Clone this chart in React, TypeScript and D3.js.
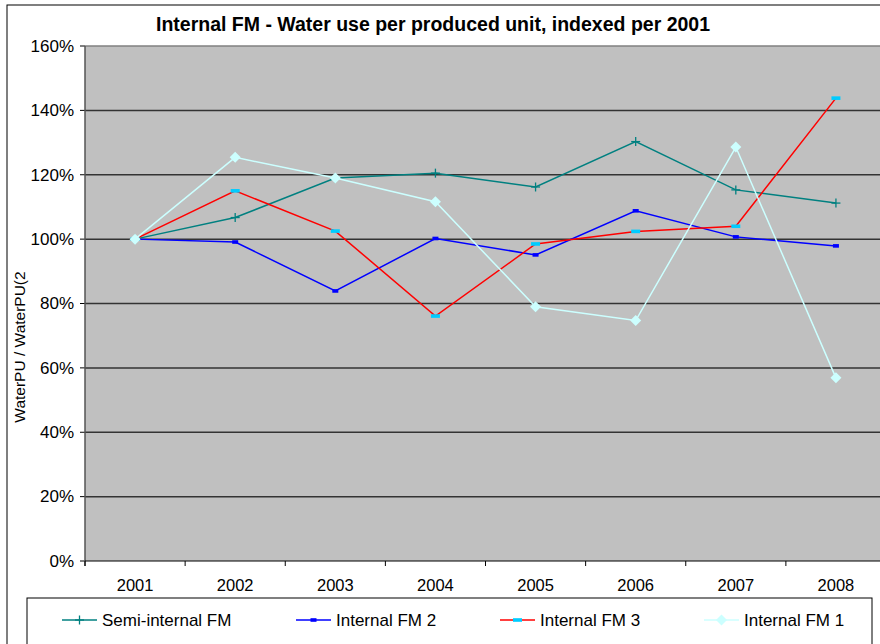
import React from "react";
import * as d3 from "d3";

const years = ["2001", "2002", "2003", "2004", "2005", "2006", "2007", "2008"];
const semiInternal = [100, 106.7, 119, 120.5, 116.2, 130.3, 115.3, 111.2];
const internal2 = [100, 99.1, 83.9, 100.2, 95.1, 108.8, 100.7, 97.9];
const internal3 = [100, 115, 102.5, 76.1, 98.5, 102.4, 104, 143.8];
const internal1 = [100, 125.4, 119, 111.6, 79, 74.7, 128.6, 56.9];
const yTicks = [0, 20, 40, 60, 80, 100, 120, 140, 160];

const series = [
  { name: "Semi-internal FM", values: semiInternal, color: "#008080", marker: "plus", mcolor: "#008080" },
  { name: "Internal FM 2", values: internal2, color: "#0000FF", marker: "square", mcolor: "#0000FF" },
  { name: "Internal FM 3", values: internal3, color: "#FF0000", marker: "dash", mcolor: "#00CCFF" },
  { name: "Internal FM 1", values: internal1, color: "#CCFFFF", marker: "diamond", mcolor: "#CCFFFF" },
];

const W = 880, H = 644;
const plotL = 85, plotR = 886, plotT = 46, plotB = 561;
const font = "'Liberation Sans', Arial, sans-serif";

function Marker({ type, x, y, color }: { type: string; x: number; y: number; color: string }) {
  if (type === "plus")
    return (
      <g stroke={color} strokeWidth={1.3}>
        <line x1={x - 4.5} x2={x + 4.5} y1={y} y2={y} />
        <line x1={x} x2={x} y1={y - 4.5} y2={y + 4.5} />
      </g>
    );
  if (type === "square") return <rect x={x - 3} y={y - 1.8} width={6} height={3.6} fill={color} />;
  if (type === "dash") return <rect x={x - 4.5} y={y - 1.8} width={9} height={3.6} fill={color} />;
  return <path d={`M${x},${y - 5.5}L${x + 5.5},${y}L${x},${y + 5.5}L${x - 5.5},${y}Z`} fill={color} />;
}

export default function App() {
  const x = d3.scaleBand<string>().domain(years).range([plotL, plotR]);
  const y = d3.scaleLinear().domain([0, 160]).range([plotB, plotT]);
  const cx = (d: string) => (x(d) as number) + x.bandwidth() / 2;
  const line = d3
    .line<number>()
    .x((_, i) => cx(years[i]))
    .y((v) => y(v));

  const legendX = [62, 296, 500, 704];
  const legendY = 620;

  return (
    <svg width={W} height={H} style={{ position: "absolute", left: 0, top: 0 }} fontFamily={font}>
      <rect x={0} y={0} width={W} height={H} fill="#fff" />
      <rect x={7} y={5} width={1000} height={1000} fill="#fff" stroke="#000" strokeWidth={1} />
      <text x={433} y={31} textAnchor="middle" fontSize={19.5} fontWeight="bold" fill="#000">
        Internal FM - Water use per produced unit, indexed per 2001
      </text>
      <rect x={plotL} y={plotT} width={plotR - plotL} height={plotB - plotT} fill="#C0C0C0" />
      {yTicks.map((t) => (
        <g key={t}>
          {t > 0 && (
            <line
              x1={plotL}
              x2={plotR}
              y1={y(t)}
              y2={y(t)}
              stroke={t === 160 ? "#808080" : "#333"}
              strokeWidth={1.5}
            />
          )}
          <line x1={80} x2={plotL} y1={y(t)} y2={y(t)} stroke="#000" />
          <text x={74} y={y(t) + 5.8} textAnchor="end" fontSize={17} fill="#000">
            {t}%
          </text>
        </g>
      ))}
      <line x1={plotL} x2={plotL} y1={plotT} y2={plotB + 5} stroke="#555" strokeWidth={1.5} />
      <line x1={plotL} x2={plotR} y1={plotB} y2={plotB} stroke="#000" strokeWidth={1.2} />
      {years.map((yr) => (
        <g key={yr}>
          <line x1={x(yr) as number} x2={x(yr) as number} y1={plotB} y2={plotB + 5} stroke="#000" />
          <text x={cx(yr)} y={591} textAnchor="middle" fontSize={16.5} fill="#000">
            {yr}
          </text>
        </g>
      ))}
      <text
        transform={`translate(25,347) rotate(-90)`}
        textAnchor="middle"
        fontSize={15.5}
        fill="#000"
      >
        WaterPU / WaterPU(2
      </text>
      {series.map((s) => (
        <g key={s.name}>
          <path d={line(s.values) || ""} fill="none" stroke={s.color} strokeWidth={1.5} />
          {s.values.map((v, i) => (
            <Marker key={i} type={s.marker} x={cx(years[i])} y={y(v)} color={s.mcolor} />
          ))}
        </g>
      ))}
      <rect x={27} y={598} width={845} height={100} fill="#fff" stroke="#000" strokeWidth={1} />
      {series.map((s, i) => (
        <g key={s.name}>
          <line x1={legendX[i]} x2={legendX[i] + 35} y1={legendY} y2={legendY} stroke={s.color} strokeWidth={1.5} />
          <Marker type={s.marker} x={legendX[i] + 17.5} y={legendY} color={s.mcolor} />
          <text x={legendX[i] + 40} y={legendY + 6} fontSize={17} fill="#000">
            {s.name}
          </text>
        </g>
      ))}
    </svg>
  );
}
